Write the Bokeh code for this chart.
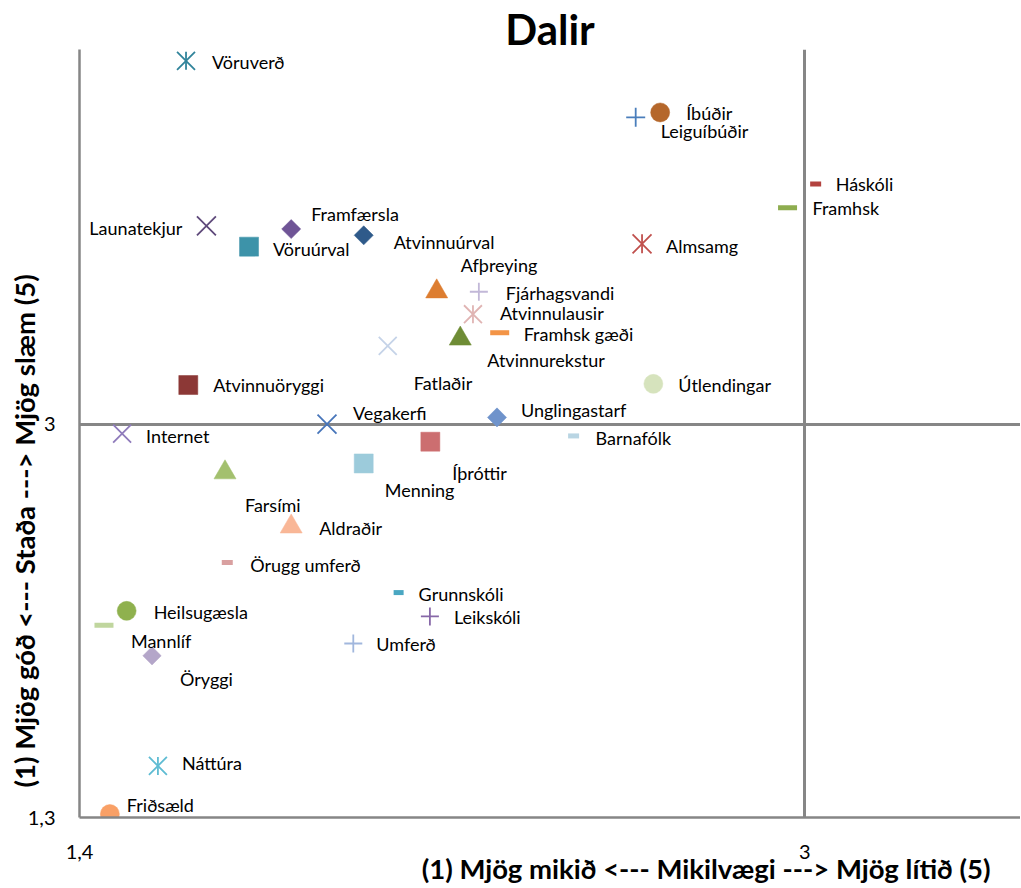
import math
from bokeh.plotting import figure
from bokeh.models import ColumnDataSource, FixedTicker, CustomJSTickFormatter, Title
from bokeh.embed import file_html
from bokeh.resources import INLINE
from bokeh.core.properties import value

# ---------------- data ----------------
title_text = "Dalir"
x_title = "(1) Mjög mikið <--- Mikilvægi ---> Mjög lítið (5)"
y_title = "(1) Mjög góð <--- Staða ---> Mjög slæm (5)"

names = ["Vöruverð", "Íbúðir", "Leiguíbúðir", "Háskóli", "Framhsk", "Almsamg",
         "Launatekjur", "Framfærsla", "Atvinnuúrval", "Vöruúrval", "Afþreying",
         "Fjárhagsvandi", "Atvinnulausir", "Framhsk gæði", "Atvinnurekstur", "Fatlaðir",
         "Útlendingar", "Atvinnuöryggi", "Vegakerfi", "Unglingastarf", "Internet",
         "Barnafólk", "Íþróttir", "Menning", "Farsími", "Aldraðir", "Örugg umferð",
         "Grunnskóli", "Leikskóli", "Umferð", "Heilsugæsla", "Mannlíf", "Öryggi",
         "Náttúra", "Friðsæld"]

importance = [1.635, 2.681, 2.627, 3.024, 2.962, 2.641,
              1.680, 1.867, 2.027, 1.774, 2.188,
              2.281, 2.268, 2.327, 2.240, 2.080,
              2.666, 1.640, 1.946, 2.321, 1.494,
              2.490, 2.174, 2.027, 1.721, 1.867, 1.726,
              2.104, 2.173, 2.004, 1.504, 1.454, 1.560,
              1.573, 1.467]

status = [4.570, 4.347, 4.326, 4.038, 3.935, 3.779,
          3.857, 3.843, 3.816, 3.767, 3.573,
          3.572, 3.475, 3.395, 3.369, 3.338,
          3.174, 3.169, 3.000, 3.029, 2.959,
          2.949, 2.924, 2.830, 2.791, 2.557, 2.402,
          2.272, 2.169, 2.052, 2.193, 2.131, 1.999,
          1.523, 1.315]

x_ticks = [1.4, 3.0]
y_ticks = [1.3, 3.0]

# ---------------- styles ----------------
markers = ["star", "circle", "cross", "dash", "dash", "star",
           "x", "diamond", "diamond", "square", "triangle",
           "cross", "star", "dash", "triangle", "x",
           "circle", "square", "x", "diamond", "x",
           "dash", "square", "square", "triangle", "triangle", "dash",
           "dash", "cross", "cross", "circle", "dash", "diamond",
           "star", "circle"]

colors = ["#31849B", "#B5672B", "#4A7EBB", "#B3423F", "#8EAD4F", "#C0504D",
          "#5F4A7B", "#6F5496", "#2F5A8A", "#3D93A9", "#DD7D30",
          "#C2B8D8", "#E0B4B3", "#F39446", "#6E8C35", "#C5D3E8",
          "#D6E3BD", "#8C3836", "#4775BA", "#6F93CB", "#8F7BBB",
          "#B9D5E3", "#CC6E70", "#9CCBDB", "#A3C06E", "#F9B797", "#D9A0A0",
          "#4AA7C2", "#8768A8", "#A1B7DD", "#8FB14E", "#C0D69E", "#B4A6C9",
          "#5FBCD3", "#F9A066"]

sizes = [18, 19, 19, 11, 19, 19,
         19, 13.5, 13.5, 19, 19,
         18, 18, 19, 19, 18,
         19, 19, 19, 13.5, 18,
         11, 19, 19, 19, 19, 11,
         10, 18, 18, 19, 19, 13,
         18, 19]

label_dx = [26, 26, 25, 20, 25, 24,
            -24, 20, 30, 24, 24,
            27, 27, 24, 27, 26,
            25, 25, 26, 24, 24,
            22, 22, 21, 20, 28, 23,
            20, 24, 23, 27, 27, 28,
            24, 17]
label_dy = [1, 1, 14, 0, 0, 2,
            2, -15, 7, 2, -27,
            1, -1, 1, 21, 37,
            1, 0, -11, -7, 2,
            2, 31, 27, 33, 1, 2,
            1, 1, 1, 1, 16, 23,
            -3, -9]
label_align = ["right" if n == "Launatekjur" else "left" for n in names]

FONT = "Lato"
GRAY = "#868686"

# canvas 1020 x 886; frame 79..1020 horizontally, 49..817 vertically
p = figure(width=1020, height=886, output_backend="svg", toolbar_location=None,
           x_range=(1.4, 3.4759), y_range=(1.3, 4.619),
           min_border_left=79, min_border_right=0, min_border_top=49, min_border_bottom=69,
           outline_line_color=None, background_fill_color="white")

# title
p.title.text = title_text
p.title.align = "center"
p.title.vertical_align = "bottom"
p.title.standoff = -8
p.title.text_font = FONT
p.title.text_font_size = "42px"
p.title.text_font_style = "bold"
p.title.text_color = "black"

# axes
for ax in (p.xaxis[0], p.yaxis[0]):
    ax.axis_line_color = GRAY
    ax.axis_line_width = 2.5
    ax.major_tick_line_color = None
    ax.minor_tick_line_color = None
    ax.major_tick_in = 0
    ax.major_tick_out = 0
    ax.major_label_text_font = FONT
    ax.major_label_text_font_size = "20px"
    ax.major_label_text_color = "black"
    ax.formatter = CustomJSTickFormatter(code="return tick.toString().replace('.', ',');")
p.xaxis[0].ticker = FixedTicker(ticks=x_ticks)
p.yaxis[0].ticker = FixedTicker(ticks=y_ticks)
p.xaxis[0].major_label_standoff = 27
p.yaxis[0].major_label_standoff = 24

p.xgrid[0].ticker = FixedTicker(ticks=x_ticks)
p.ygrid[0].ticker = FixedTicker(ticks=y_ticks)
for g in (p.xgrid[0], p.ygrid[0]):
    g.grid_line_color = GRAY
    g.grid_line_width = 3

# axis titles (as side-panel titles so they can be positioned like the original)
p.add_layout(Title(text=x_title, align="right", offset=30, vertical_align="top", standoff=-20,
                   text_font=FONT, text_font_size="27.5px", text_font_style="bold",
                   text_color="black"), "below")
p.add_layout(Title(text=y_title, align="left", offset=30, vertical_align="bottom", standoff=-32,
                   text_font=FONT, text_font_size="27.5px", text_font_style="bold",
                   text_color="black"), "left")

# markers
def subset(kind, scale=1.0):
    idx = [i for i, m in enumerate(markers) if m == kind]
    return ColumnDataSource(dict(
        x=[importance[i] for i in idx],
        y=[status[i] for i in idx],
        c=[colors[i] for i in idx],
        s=[sizes[i] * scale for i in idx],
        s2=[sizes[i] for i in idx],
    ))

p.scatter("x", "y", source=subset("circle"), marker="circle", size="s",
          fill_color="c", line_color="c", line_width=0.5)
p.scatter("x", "y", source=subset("square"), marker="square", size="s",
          fill_color="c", line_color="c", line_width=0.5)
p.scatter("x", "y", source=subset("triangle", 1.16), marker="triangle", size="s",
          fill_color="c", line_color="c", line_width=0.5)
p.scatter("x", "y", source=subset("diamond"), marker="square", size="s", angle=math.pi / 4,
          fill_color="c", line_color="c", line_width=0.5)
p.scatter("x", "y", source=subset("x", 1.41), marker="x", size="s", line_color="c", line_width=1.8)
p.scatter("x", "y", source=subset("cross"), marker="cross", size="s", line_color="c", line_width=1.8)
star_src = subset("star", 1.41)
p.scatter("x", "y", source=star_src, marker="x", size="s", line_color="c", line_width=1.8)
p.scatter("x", "y", source=star_src, marker="dash", size="s2", angle=math.pi / 2,
          line_color="c", line_width=1.8)
p.scatter("x", "y", source=subset("dash"), marker="dash", size="s", line_color="c", line_width=5)

# data labels
for al in ("left", "right"):
    idx = [i for i, a in enumerate(label_align) if a == al]
    src = ColumnDataSource(dict(
        x=[importance[i] for i in idx], y=[status[i] for i in idx],
        t=[names[i] for i in idx], dx=[label_dx[i] for i in idx], dy=[label_dy[i] for i in idx],
    ))
    p.text("x", "y", text="t", source=src, x_offset="dx", y_offset="dy",
           text_align=al, text_baseline="middle", text_font=value(FONT),
           text_font_size="18px", text_color="black")

open("out.html", "w").write(file_html(p, INLINE))
